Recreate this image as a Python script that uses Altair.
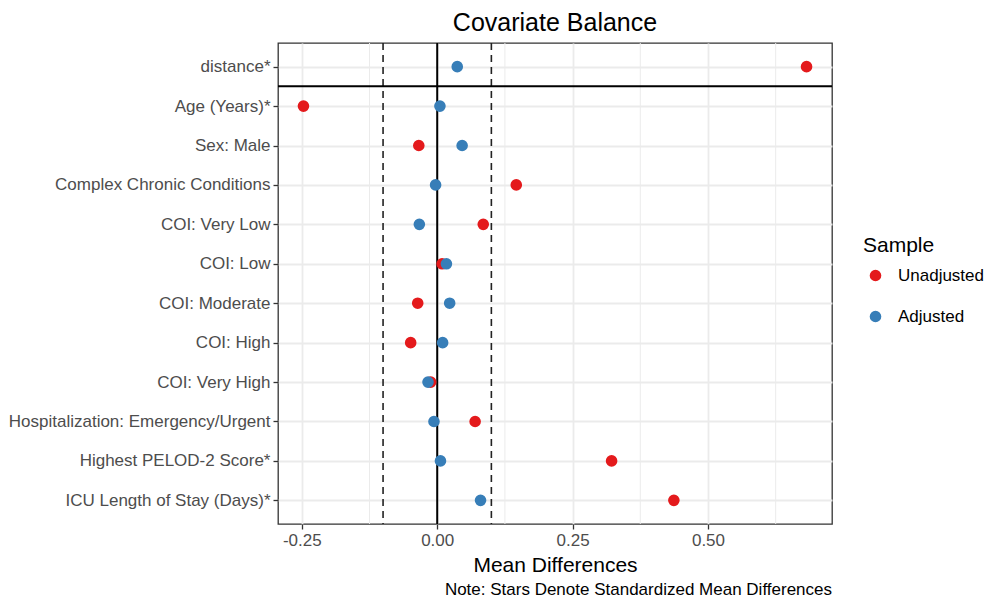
import altair as alt
import pandas as pd

variables = [
    "distance*", "Age (Years)*", "Sex: Male", "Complex Chronic Conditions",
    "COI: Very Low", "COI: Low", "COI: Moderate", "COI: High", "COI: Very High",
    "Hospitalization: Emergency/Urgent", "Highest PELOD-2 Score*",
    "ICU Length of Stay (Days)*",
]
unadjusted = [0.682, -0.247, -0.034, 0.146, 0.085, 0.009, -0.036, -0.049, -0.012, 0.070, 0.322, 0.437]
adjusted = [0.037, 0.005, 0.046, -0.003, -0.033, 0.017, 0.023, 0.010, -0.017, -0.006, 0.006, 0.080]
samples = ["Unadjusted", "Adjusted"]
colors = ["#E41A1C", "#377EB8"]
x_major = [-0.25, 0.0, 0.25, 0.5]
x_minor = [-0.125, 0.125, 0.375, 0.625]
thresholds = [-0.1, 0.1]
zero_line = [0.0]
separator = [1.5]
x_domain = [-0.294, 0.729]
caption = "Note: Stars Denote Standardized Mean Differences"

W, H = 554, 481
FONT = "Liberation Sans"

rows = []
for s, vals in zip(samples, [unadjusted, adjusted]):
    for i, (v, val) in enumerate(zip(variables, vals)):
        rows.append({"variable": v, "idx": i + 1, "sample": s, "value": val})
df = pd.DataFrame(rows)

label_js = "[" + ",".join("'" + v + "'" for v in variables) + "]"

xscale = alt.Scale(domain=x_domain, nice=False, zero=False)
yscale = alt.Scale(domain=[0.4, len(variables) + 0.6], reverse=True, nice=False, zero=False)

xaxis = alt.Axis(
    values=x_major, labelExpr="replace(format(datum.value, '.2f'), '\u2212', '-')",
    title="Mean Differences", grid=True,
    gridColor="#EBEBEB", gridWidth=1.8, domain=False, tickColor="#333333",
    tickWidth=1.3, tickSize=5, labelPadding=3, labelFontSize=17,
    labelColor="#4D4D4D", titleFontSize=21, titleFontWeight="normal",
    titleColor="black", titlePadding=6, labelFlush=False,
)
yaxis = alt.Axis(
    values=list(range(1, len(variables) + 1)),
    labelExpr=label_js + "[datum.value - 1]", title=None, grid=True,
    gridColor="#EBEBEB", gridWidth=1.8, domain=False, tickColor="#333333",
    tickWidth=1.3, tickSize=5, labelPadding=3, labelFontSize=17,
    labelColor="#4D4D4D", labelFlush=False, labelOverlap=False, labelLimit=0,
)

minor = alt.Chart(pd.DataFrame({"value": x_minor})).mark_rule(
    color="#EBEBEB", strokeWidth=1
).encode(x=alt.X("value:Q", scale=xscale, axis=xaxis))

dashed = alt.Chart(pd.DataFrame({"value": thresholds})).mark_rule(
    color="#222222", strokeWidth=1.6, strokeDash=[7, 5]
).encode(x=alt.X("value:Q", scale=xscale, axis=xaxis))

zero = alt.Chart(pd.DataFrame({"value": zero_line})).mark_rule(
    color="black", strokeWidth=2
).encode(x=alt.X("value:Q", scale=xscale, axis=xaxis))

sep = alt.Chart(pd.DataFrame({"idx": separator})).mark_rule(
    color="black", strokeWidth=2
).encode(y=alt.Y("idx:Q", scale=yscale, axis=yaxis))

points = alt.Chart(df).mark_circle(size=135, opacity=1).encode(
    x=alt.X("value:Q", scale=xscale, axis=xaxis),
    y=alt.Y("idx:Q", scale=yscale, axis=yaxis),
    color=alt.Color(
        "sample:N",
        scale=alt.Scale(domain=samples, range=colors),
        legend=alt.Legend(
            title="Sample", orient="none", legendX=585, legendY=192,
            titleFontSize=21, titleFontWeight="normal", titleColor="black",
            labelFontSize=17, labelColor="black", symbolType="circle",
            symbolSize=135, symbolStrokeWidth=0, symbolOpacity=1,
            rowPadding=23, titlePadding=11, labelOffset=14, symbolOffset=4,
            padding=0,
        ),
    ),
)

cap = alt.Chart(pd.DataFrame({"t": [caption]})).mark_text(
    align="right", baseline="middle", fontSize=17, font=FONT, color="black"
).encode(x=alt.value(W), y=alt.value(H + 66), text="t:N")

chart = alt.layer(minor, dashed, zero, sep, points, cap).properties(
    width=W, height=H,
    title=alt.TitleParams(
        "Covariate Balance", fontSize=25, fontWeight="normal", color="black",
        anchor="middle", offset=6, font=FONT,
    ),
    padding={"left": 0, "top": 3, "right": 0, "bottom": 0},
).configure(font=FONT).configure_view(stroke="#333333", strokeWidth=1.3)

chart.save("out.html", embed_options={"renderer": "svg", "actions": False})
